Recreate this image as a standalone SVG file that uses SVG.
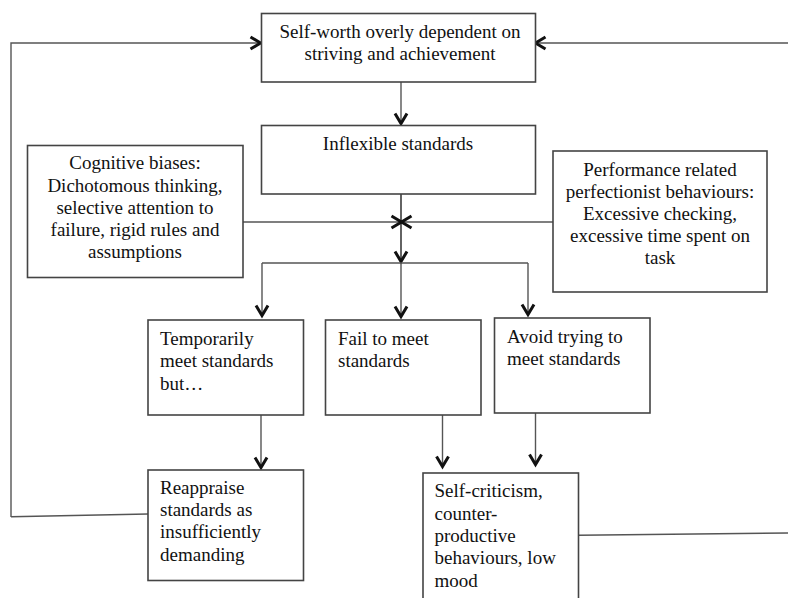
<svg xmlns="http://www.w3.org/2000/svg" width="788" height="598" viewBox="0 0 788 598">
<defs>
<marker id="ah" markerUnits="userSpaceOnUse" markerWidth="18" markerHeight="18" refX="12.5" refY="8" orient="auto">
<path d="M2,2 L12,8 L2,14" fill="none" stroke="#111" stroke-width="3" stroke-linejoin="miter"/>
</marker>
</defs>
<style>
.box{fill:#fff;stroke:#444;stroke-width:1.6}
.ln{fill:none;stroke:#555;stroke-width:1.4}
.ar{fill:none;stroke:#555;stroke-width:1.4;marker-end:url(#ah)}
text{font-family:"Liberation Serif","Times New Roman",serif;font-size:19px;fill:#111}
.c{text-anchor:middle}
</style>
<rect width="788" height="598" fill="#fff"/>
<g id="connectors">
<polyline class="ar" points="11,517 11,43 261,43"/>
<line class="ln" x1="11" y1="516.7" x2="148" y2="514"/>
<line class="ar" x1="788" y1="43" x2="535" y2="43"/>
<line class="ln" x1="578.5" y1="535.3" x2="788" y2="533"/>
<line class="ar" x1="401" y1="82" x2="401" y2="124"/>
<line class="ln" x1="401" y1="194" x2="401" y2="263"/>
<line class="ar" x1="401" y1="194" x2="401" y2="262"/>
<line class="ar" x1="243" y1="222" x2="402" y2="222"/>
<line class="ar" x1="553" y1="222" x2="401" y2="222"/>
<line class="ln" x1="262" y1="263" x2="528" y2="263"/>
<line class="ar" x1="262" y1="263" x2="262" y2="316"/>
<line class="ar" x1="401" y1="263" x2="401" y2="317"/>
<line class="ar" x1="528" y1="263" x2="528" y2="315"/>
<line class="ar" x1="261" y1="415" x2="261" y2="468"/>
<line class="ar" x1="442.5" y1="415" x2="442.5" y2="467"/>
<line class="ar" x1="535.5" y1="413" x2="535.5" y2="465"/>
</g>
<g id="selfworth">
<rect class="box" x="261.5" y="13.5" width="274" height="68.5"/>
<text class="c" x="400" y="38">Self-worth overly dependent on</text>
<text class="c" x="400" y="60">striving and achievement</text>
</g>
<g id="inflexible">
<rect class="box" x="261.5" y="125.5" width="274" height="68.5"/>
<text class="c" x="398" y="150">Inflexible standards</text>
</g>
<g id="cognitive">
<rect class="box" x="27.5" y="145.5" width="215.5" height="132"/>
<text class="c" x="135" y="169">Cognitive biases:</text>
<text class="c" x="135" y="191.5">Dichotomous thinking,</text>
<text class="c" x="135" y="214">selective attention to</text>
<text class="c" x="135" y="236">failure, rigid rules and</text>
<text class="c" x="135" y="258">assumptions</text>
</g>
<g id="performance">
<rect class="box" x="553" y="151" width="214" height="141"/>
<text class="c" x="660" y="176">Performance related</text>
<text class="c" x="660" y="198">perfectionist behaviours:</text>
<text class="c" x="660" y="220">Excessive checking,</text>
<text class="c" x="660" y="242">excessive time spent on</text>
<text class="c" x="660" y="264">task</text>
</g>
<g id="temporarily">
<rect class="box" x="148" y="320" width="155.5" height="95"/>
<text x="160" y="345">Temporarily</text>
<text x="160" y="367">meet standards</text>
<text x="160" y="390">but…</text>
</g>
<g id="fail">
<rect class="box" x="325.5" y="320" width="155.5" height="95"/>
<text x="338" y="345">Fail to meet</text>
<text x="338" y="367">standards</text>
</g>
<g id="avoid">
<rect class="box" x="494.5" y="318" width="155.5" height="95"/>
<text x="507" y="343">Avoid trying to</text>
<text x="507" y="365">meet standards</text>
</g>
<g id="reappraise">
<rect class="box" x="148" y="470" width="155.5" height="110.5"/>
<text x="160" y="494">Reappraise</text>
<text x="160" y="516">standards as</text>
<text x="160" y="538">insufficiently</text>
<text x="160" y="561">demanding</text>
</g>
<g id="selfcriticism">
<rect class="box" x="423" y="473" width="155.5" height="130"/>
<text x="434.5" y="497">Self-criticism,</text>
<text x="434.5" y="520">counter-</text>
<text x="434.5" y="542">productive</text>
<text x="434.5" y="564">behaviours, low</text>
<text x="434.5" y="587">mood</text>
</g>
</svg>
